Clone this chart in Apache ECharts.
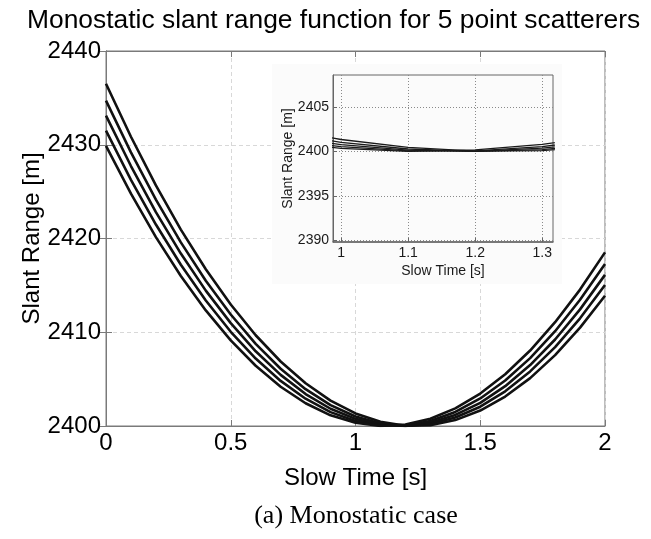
<!DOCTYPE html>
<html>
<head>
<meta charset="utf-8">
<script src="https://cdn.jsdelivr.net/npm/echarts@6/dist/echarts.min.js"></script>
<style>html,body{margin:0;padding:0;background:#fff}#c{width:651px;height:539px}</style>
</head>
<body>
<div id="c"></div>
<script>
// slow time samples [s]
var times = [0, 0.1, 0.2, 0.3, 0.4, 0.5, 0.6, 0.7, 0.8, 0.9, 1.0, 1.1, 1.2, 1.3, 1.4, 1.5, 1.6, 1.7, 1.8, 1.9, 2.0];
// slant range [m] for the 5 scatterers
var scatterer1 = [2436.51, 2430.85, 2425.66, 2420.95, 2416.72, 2412.96, 2409.68, 2406.88, 2404.56, 2402.71, 2401.34, 2400.45, 2400.03, 2400.09, 2400.63, 2401.65, 2403.14, 2405.11, 2407.56, 2410.49, 2413.89];
var scatterer2 = [2434.70, 2429.19, 2424.15, 2419.59, 2415.50, 2411.89, 2408.76, 2406.11, 2403.93, 2402.23, 2401.01, 2400.27, 2400.00, 2400.21, 2400.90, 2402.06, 2403.70, 2405.82, 2408.42, 2411.49, 2415.04];
var scatterer3 = [2433.11, 2427.73, 2422.82, 2418.39, 2414.44, 2410.97, 2407.97, 2405.45, 2403.41, 2401.84, 2400.76, 2400.15, 2400.01, 2400.36, 2401.18, 2402.47, 2404.25, 2406.50, 2409.23, 2412.44, 2416.12];
var scatterer4 = [2431.50, 2426.26, 2421.49, 2417.20, 2413.39, 2410.05, 2407.19, 2404.81, 2402.91, 2401.48, 2400.53, 2400.06, 2400.06, 2400.54, 2401.50, 2402.94, 2404.85, 2407.24, 2410.11, 2413.46, 2417.28];
var scatterer5 = [2429.88, 2424.78, 2420.15, 2416.00, 2412.33, 2409.14, 2406.43, 2404.19, 2402.43, 2401.14, 2400.34, 2400.01, 2400.16, 2400.78, 2401.88, 2403.46, 2405.52, 2408.05, 2411.07, 2414.55, 2418.52];
var allCurves = [scatterer1, scatterer2, scatterer3, scatterer4, scatterer5];

// axis ranges / ticks
var mainX = {min: 0, max: 2, interval: 0.5};
var mainY = {min: 2400, max: 2440, interval: 10};
var insetX = {min: 0.988, max: 1.316, ticks: [1, 1.1, 1.2, 1.3]};
var insetY = {min: 2389.8, max: 2408.6, ticks: [2390, 2395, 2400, 2405]};

var chart = echarts.init(document.getElementById('c'), null, {renderer: 'canvas'});

function pairs(arr) { return times.map(function (t, i) { return [t, arr[i]]; }); }
function plain(v) { return String(v); }

var FONT = 'Liberation Sans';
var boxGray = '#7a7a7a';

var series = [];
allCurves.forEach(function (c) {
  series.push({type: 'line', xAxisIndex: 0, yAxisIndex: 0, data: pairs(c), showSymbol: false, symbol: 'none',
    lineStyle: {color: '#111', width: 2.6}, z: 2, silent: true, animation: false});
});
allCurves.forEach(function (c) {
  series.push({type: 'line', xAxisIndex: 2, yAxisIndex: 2, data: pairs(c), showSymbol: false, symbol: 'none',
    lineStyle: {color: '#1a1a1a', width: 1.3}, z: 8, silent: true, animation: false, clip: true});
});

var option = {
  animation: false,
  backgroundColor: '#fff',
  title: {
    text: 'Monostatic slant range function for 5 point scatterers',
    left: 22, top: 3,
    textStyle: {fontFamily: FONT, fontSize: 26.4, fontWeight: 'normal', color: '#000'}
  },
  graphic: [
    {type: 'rect', shape: {x: 272, y: 64, width: 290, height: 220}, style: {fill: '#fbfbfb'}, z: 4, silent: true},
    {type: 'text', x: 356, y: 516, style: {text: '(a) Monostatic case', font: '26px "Liberation Serif"', fill: '#000', textAlign: 'center', textVerticalAlign: 'middle'}, z: 10}
  ],
  grid: [
    {left: 106, right: 46, top: 51, bottom: 113, show: true, borderColor: boxGray, borderWidth: 1, backgroundColor: 'transparent'},
    {left: 333, right: 98, top: 75, bottom: 297, show: true, borderColor: '#666', borderWidth: 1, backgroundColor: 'transparent', z: 6}
  ],
  xAxis: [
    {gridIndex: 0, type: 'value', min: mainX.min, max: mainX.max, interval: mainX.interval, position: 'bottom',
      axisLine: {show: true, lineStyle: {color: boxGray}}, axisTick: {show: true, inside: true, length: 6, lineStyle: {color: boxGray}},
      axisLabel: {fontFamily: FONT, fontSize: 24, color: '#000', margin: 5, formatter: plain},
      splitLine: {show: true, lineStyle: {color: '#d8d8d8', type: [4, 3], width: 1}},
      name: 'Slow Time [s]', nameLocation: 'middle', nameGap: 40, nameMoveOverlap: false, nameTextStyle: {fontFamily: FONT, fontSize: 24, color: '#000'}},
    {gridIndex: 0, type: 'value', min: mainX.min, max: mainX.max, interval: mainX.interval, position: 'top',
      axisLine: {show: true, lineStyle: {color: boxGray}}, axisTick: {show: true, inside: true, length: 6, lineStyle: {color: boxGray}},
      axisLabel: {show: false}, splitLine: {show: false}},
    {gridIndex: 1, type: 'value', min: insetX.min, max: insetX.max, position: 'bottom', z: 7,
      axisLine: {show: true, lineStyle: {color: '#666', width: 1.5}},
      axisTick: {show: true, inside: true, length: 4, customValues: insetX.ticks, lineStyle: {color: '#666'}},
      axisLabel: {fontFamily: FONT, fontSize: 14, color: '#1a1a1a', margin: 4, customValues: insetX.ticks, formatter: plain},
      splitLine: {show: true, lineStyle: {color: '#8a8a8a', type: [1, 2], width: 1}},
      name: 'Slow Time [s]', nameLocation: 'middle', nameGap: 22, nameMoveOverlap: false, nameTextStyle: {fontFamily: FONT, fontSize: 14, color: '#1a1a1a'}}
  ],
  yAxis: [
    {gridIndex: 0, type: 'value', min: mainY.min, max: mainY.max, interval: mainY.interval, position: 'left',
      axisLine: {show: true, lineStyle: {color: boxGray}}, axisTick: {show: true, inside: true, length: 6, lineStyle: {color: boxGray}},
      axisLabel: {fontFamily: FONT, fontSize: 24, color: '#000', margin: 5, formatter: plain},
      splitLine: {show: true, lineStyle: {color: '#d8d8d8', type: [4, 3], width: 1}},
      name: 'Slant Range [m]', nameLocation: 'middle', nameGap: 62, nameRotate: 90, nameMoveOverlap: false, nameTextStyle: {fontFamily: FONT, fontSize: 24, color: '#000'}},
    {gridIndex: 0, type: 'value', min: mainY.min, max: mainY.max, interval: mainY.interval, position: 'right',
      axisLine: {show: true, lineStyle: {color: boxGray}}, axisTick: {show: true, inside: true, length: 6, lineStyle: {color: boxGray}},
      axisLabel: {show: false}, splitLine: {show: false}},
    {gridIndex: 1, type: 'value', min: insetY.min, max: insetY.max, position: 'left', z: 7,
      axisLine: {show: true, lineStyle: {color: '#666'}},
      axisTick: {show: true, inside: true, length: 4, customValues: insetY.ticks, lineStyle: {color: '#666'}},
      axisLabel: {fontFamily: FONT, fontSize: 14, color: '#1a1a1a', margin: 4, customValues: insetY.ticks, formatter: plain},
      splitLine: {show: true, lineStyle: {color: '#8a8a8a', type: [1, 2], width: 1}},
      name: 'Slant Range [m]', nameLocation: 'middle', nameGap: 38, nameRotate: 90, nameMoveOverlap: false, nameTextStyle: {fontFamily: FONT, fontSize: 14, color: '#1a1a1a'}}
  ],
  series: series
};
chart.setOption(option);
</script>
</body>
</html>
